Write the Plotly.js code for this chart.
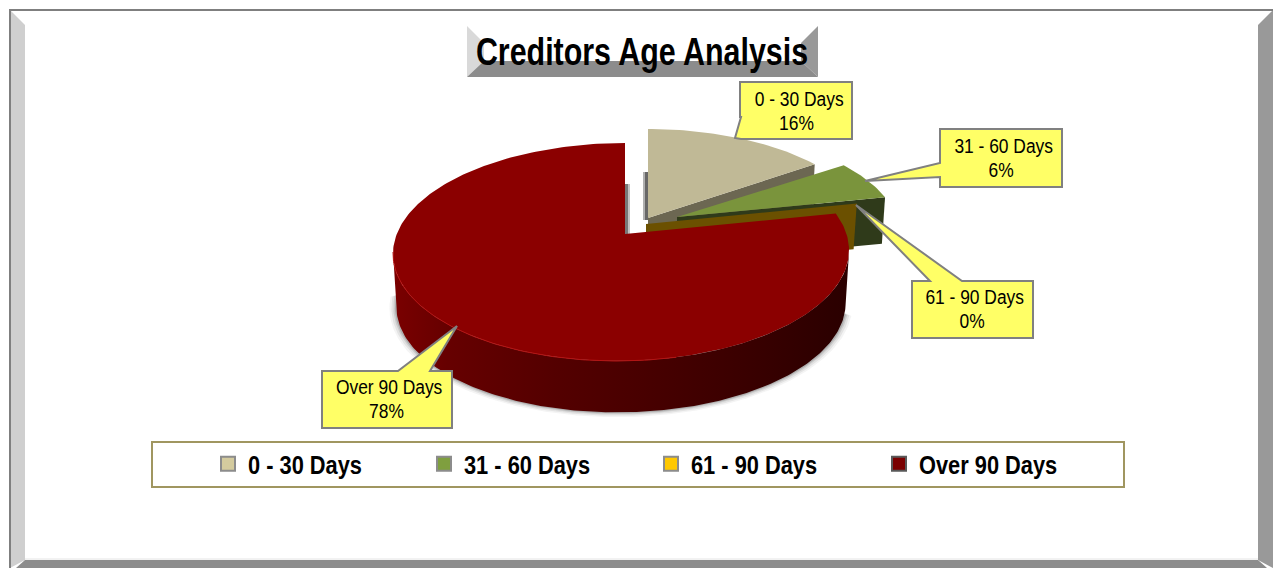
<!DOCTYPE html>
<html><head><meta charset="utf-8">
<script src="https://cdn.plot.ly/plotly-3.0.1.min.js"></script>
<style>html,body{margin:0;padding:0;background:#fff;overflow:hidden}#c{width:1273px;height:568px}</style>
</head><body><div id="c"></div>
<script>
// ---- chart data ----
const chartTitle = "Creditors Age Analysis";
const categories = ["0 - 30 Days", "31 - 60 Days", "61 - 90 Days", "Over 90 Days"];
const values = [16, 6, 0, 78];

// ---- styles ----
const topColors = ["#c0b996", "#7a943c", "#6b5000", "#8b0000"];
const wallColors = ["#6c6752", "#2f3a1a", "#6b5000", "#4d0000"];
const swatchColors = ["#d4cb9e", "#7f9f3f", "#ffc800", "#7a0000"];
const swatchLines = ["#8c8c8c", "#8c8c8c", "#8c8c8c", "#595959"];
const FONT = '"Liberation Sans",Arial,sans-serif';

// ---- projection of the tilted pie ----
const RX = 228, RY = 109, TILT = 4, WALL_SCALE = 0.985;
const centres = [[644, 238], [673, 239], [642, 242], [621, 252]];
const depths = [46, 46, 45, 53];
const apexUp = [20, 22, 18, 18];
const warps = [12, 12, 10, 10];
const rad = d => d * Math.PI / 180;
function rim(c, phi, depth, scale) {
  const s = scale || 1, d = depth || 0;
  return [c[0] + s * (RX * Math.sin(rad(phi)) + TILT * Math.cos(rad(phi))),
          c[1] + d - s * RY * Math.cos(rad(phi))];
}
function arc(c, a, b, depth, scale) {
  const n = Math.max(2, Math.ceil(Math.abs(b - a))), out = [];
  for (let i = 0; i <= n; i++) out.push(rim(c, a + (b - a) * i / n, depth, scale));
  return out;
}
const apex = (i, depth) => [centres[i][0] + TILT, centres[i][1] - apexUp[i] + (depth || 0)];
function poly(points, color, name, extra) {
  const closed = points.concat([points[0]]);
  return Object.assign({
    type: "scatter", mode: "lines", x: closed.map(p => p[0]), y: closed.map(p => p[1]),
    fill: "toself", fillcolor: color, line: {width: 0, color: color},
    hoverinfo: "skip", showlegend: false, name: name
  }, extra || {});
}

// cumulative angles from the values
const total = values.reduce((a, b) => a + b, 0);
let cum = 0;
const slices = values.map((v, i) => {
  const warp = t => t - warps[i] * Math.sin(rad(t));
  const a = warp(cum / total * 360); cum += v; const b = warp(cum / total * 360);
  return {a, b};
});

const traces = [];
// soft shadow below the red wall
const redC = centres[3];
[[7, .05], [5, .08], [3, .12], [1.5, .18]].forEach(([g, al]) => {
  const pts = arc(redC, 95, 275, depths[3] + g * .2, WALL_SCALE + g / RX);
  traces.push(poly(pts.concat([[redC[0] - 100, redC[1]], [redC[0] + 100, redC[1]]]), `rgba(40,40,40,${al})`, "shadow"));
});

// slices drawn back to front
[0, 1, 2].forEach(i => {
  const c = centres[i], d = depths[i], s = slices[i];
  traces.push(poly([apex(i), rim(c, s.b), rim(c, s.b, d, WALL_SCALE), apex(i, d)], wallColors[i], categories[i] + " side"));
  if (values[i] > 0) traces.push(poly([apex(i)].concat(arc(c, s.a, s.b)), topColors[i], categories[i]));
});
const sr = slices[3];
traces.push(poly(arc(redC, 90, 270).concat(arc(redC, 270, 90, depths[3], WALL_SCALE)), wallColors[3], categories[3] + " wall", {
  fillgradient: {type: "horizontal", colorscale: [[0, "#7a0000"], [.12, "#660000"], [.35, "#540000"], [.55, "#480000"], [.8, "#380000"], [1, "#2a0000"]]}
}));
traces.push(poly([apex(3)].concat(arc(redC, sr.a, sr.b)), topColors[3], categories[3]));
const hl = arc(redC, 165, 270);
traces.push({type: "scatter", mode: "lines", x: hl.map(p => p[0]), y: hl.map(p => p[1]),
  line: {color: "#b41414", width: 1}, hoverinfo: "skip", showlegend: false});

// legend entries, one legend per entry so each sits at its own place
const legendX = [208, 424, 651, 879];
const legendKeys = ["legend", "legend2", "legend3", "legend4"];
categories.forEach((cat, i) => {
  traces.push({type: "scatter", mode: "markers", x: [null], y: [null], name: cat, legend: legendKeys[i],
    marker: {symbol: "square", size: 14, color: swatchColors[i], line: {color: swatchLines[i], width: 2}}, showlegend: true, hoverinfo: "skip"});
});

// ---- page furniture (pixel coordinates on hidden axes) ----
const P = pts => "M" + pts.map(p => p.join(",")).join("L") + "Z";
const fillShape = (pts, color, layer) => ({type: "path", xref: "x", yref: "y", path: P(pts), fillcolor: color, line: {width: 0}, layer: layer || "below"});
const shapes = [
  // frame
  fillShape([[10,10],[25,25],[25,560],[10,568]], "#cfcfcf"),
  fillShape([[1273,10],[1258,25],[1258,560],[1273,568]], "#999999"),
  fillShape([[25,560],[1258,560],[1267,568],[16,568]], "#8c8c8c"),
  {type:"line",xref:"x",yref:"y",x0:10,x1:10,y0:9,y1:568,line:{color:"#7f7f7f",width:2},layer:"below"},
  {type:"line",xref:"x",yref:"y",x0:9,x1:1273,y0:10,y1:10,line:{color:"#7f7f7f",width:2},layer:"below"},
  {type:"line",xref:"x",yref:"y",x0:25,x1:1258,y0:559,y1:559,line:{color:"#e4e4e4",width:1},layer:"below"},
  // title plate
  fillShape([[467,26],[484,43],[484,61],[467,77]], "#d9d9d9"),
  fillShape([[818,26],[801,43],[801,61],[818,77]], "#999999"),
  fillShape([[467,77],[484,61],[801,61],[818,77]], "#8c8c8c"),
  // legend box
  {type:"rect",xref:"x",yref:"y",x0:152,x1:1124,y0:442,y1:487,fillcolor:"#ffffff",line:{color:"#a09660",width:2},layer:"below"},
  // cast shadows behind wedge edges
  {type:"rect",xref:"x",yref:"y",x0:643,x1:649,y0:172,y1:220,fillcolor:"rgba(80,80,80,.45)",line:{width:0},layer:"below"},
  {type:"rect",xref:"x",yref:"y",x0:645,x1:649,y0:172,y1:220,fillcolor:"rgba(80,80,80,.75)",line:{width:0},layer:"below"},
  {type:"rect",xref:"x",yref:"y",x0:625,x1:630,y0:184,y1:234,fillcolor:"rgba(80,80,80,.35)",line:{width:0},layer:"below"},
  {type:"rect",xref:"x",yref:"y",x0:625,x1:628,y0:184,y1:234,fillcolor:"rgba(80,80,80,.65)",line:{width:0},layer:"below"}
];
// callouts: box outline with wedge pointer
const callouts = [
  [[740,82],[852,82],[852,139],[741,139],[735,138],[741,117],[740,117]],
  [[940,129],[1062,129],[1062,187],[940,187],[940,177],[865,181],[940,163]],
  [[912,281],[930,281],[856,205],[962,281],[1033,281],[1033,338],[912,338]],
  [[322,371],[398,371],[457,326],[430,371],[452,371],[452,428],[322,428]]
];
callouts.forEach(pts => shapes.push({type:"path",xref:"x",yref:"y",path:P(pts),fillcolor:"#ffff66",line:{color:"#808080",width:2},layer:"above"}));

const labelCentres = [[798.5,112],[1003,159],[974,310],[389,400]];
const annotations = categories.map((cat, i) => ({
  xref:"x", yref:"y", x: labelCentres[i][0], y: labelCentres[i][1], showarrow:false, align:"center",
  text: cat + "<br>" + Math.round(values[i] / total * 100) + "%",
  font:{family:FONT, size:20, color:"#000"}
}));

const legendCommon = {orientation:"h", yanchor:"middle", xanchor:"left", y:1 - 464/568, bgcolor:"rgba(0,0,0,0)",
  borderwidth:0, font:{family:FONT, size:25, color:"#000", weight:700}, itemclick:false, itemdoubleclick:false};

const layout = {
  width:1273, height:568, margin:{l:0,r:0,t:0,b:0}, paper_bgcolor:"#fff", plot_bgcolor:"#fff",
  xaxis:{range:[0,1273],visible:false,fixedrange:true},
  yaxis:{range:[568,0],visible:false,fixedrange:true},
  title:{text:chartTitle, x:642/1273, xref:"paper", xanchor:"center", y:1-52/568, yref:"paper", yanchor:"middle",
    font:{family:FONT, size:38, color:"#000", weight:700}},
  shapes, annotations,
  legend:Object.assign({x:legendX[0]/1273}, legendCommon),
  legend2:Object.assign({x:legendX[1]/1273}, legendCommon),
  legend3:Object.assign({x:legendX[2]/1273}, legendCommon),
  legend4:Object.assign({x:legendX[3]/1273}, legendCommon),
  showlegend:true, hovermode:false
};

// The reference uses a narrow typeface: condense the real text horizontally.
function squeeze(el, sx, left) {
  const b = el.getBBox();
  const cx = left ? b.x : b.x + b.width / 2;
  const prev = el.getAttribute("transform") || "";
  el.setAttribute("transform", `${prev} translate(${cx} 0) scale(${sx} 1) translate(${-cx} 0)`);
}
Plotly.newPlot("c", traces, layout, {displayModeBar:false, staticPlot:true}).then(gd => {
  gd.querySelectorAll(".gtitle").forEach(t => squeeze(t, 0.80, false));
  gd.querySelectorAll(".annotation-text").forEach(t => {
    squeeze(t, 0.87, false);
    const second = t.querySelectorAll("tspan.line")[1];
    if (second) {
      second.setAttribute("x", parseFloat(second.getAttribute("x")) - 3);
      second.setAttribute("y", parseFloat(second.getAttribute("y")) - 2);
    }
  });
  legendKeys.forEach(k => gd.querySelectorAll("." + k + "text").forEach(t => squeeze(t, 0.873, true)));
});
</script></body></html>
